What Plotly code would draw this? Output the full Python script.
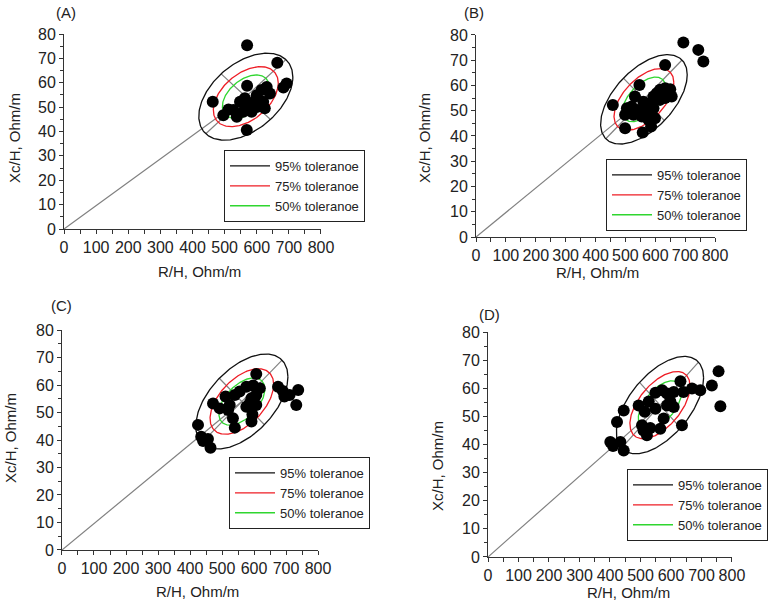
import numpy as np
import plotly.graph_objects as go

PANEL_LABELS = ["(A)", "(B)", "(C)", "(D)"]
X_TITLE = "R/H, Ohm/m"
Y_TITLE = "Xc/H, Ohm/m"

# Scatter points (R/H, Xc/H) per panel
A_R = [570, 664, 463, 570, 631, 693, 683, 569, 496, 538, 600, 615, 641, 620, 600, 584, 558, 527, 548, 563, 574, 625, 512, 590]
A_XC = [75.4, 68.2, 52.2, 58.8, 58.3, 59.7, 58.1, 40.6, 46.7, 46.1, 54.9, 57.0, 55.6, 52.2, 50.1, 48.1, 48.1, 48.8, 52.2, 53.6, 51.5, 49.5, 49.0, 52.0]

B_R = [694, 744, 761, 633, 458, 547, 499, 558, 586, 599, 499, 532, 521, 505, 527, 516, 538, 555, 572, 566, 583, 594, 605, 616, 633, 650, 655, 633, 616, 594, 577, 560]
B_XC = [77.0, 74.1, 69.5, 68.1, 52.3, 60.2, 43.1, 41.4, 43.8, 47.0, 48.4, 55.6, 51.7, 51.0, 48.4, 49.7, 50.3, 47.7, 49.0, 51.7, 53.0, 55.6, 56.9, 58.3, 58.9, 58.5, 55.6, 55.0, 54.3, 51.0, 46.4, 53.6]

C_R = [607, 425, 435, 456, 441, 464, 472, 493, 519, 524, 511, 540, 555, 576, 597, 618, 607, 592, 586, 607, 576, 534, 540, 592, 595, 675, 690, 711, 695, 738, 732]
C_XC = [64.0, 45.5, 41.2, 40.4, 39.6, 37.2, 53.3, 51.5, 50.9, 52.7, 55.8, 56.4, 57.6, 59.4, 59.8, 58.8, 56.4, 55.2, 53.3, 52.7, 52.1, 47.9, 44.5, 46.7, 49.3, 59.4, 57.8, 56.4, 55.8, 58.2, 52.7]

D_R = [756, 734, 762, 696, 669, 641, 631, 636, 423, 445, 401, 410, 434, 445, 494, 514, 527, 549, 571, 587, 609, 598, 587, 609, 576, 505, 532, 521, 565, 510, 549]
D_XC = [66.0, 61.0, 53.6, 59.3, 59.9, 58.7, 62.5, 46.8, 48.0, 52.1, 40.9, 39.5, 40.9, 37.9, 53.9, 51.6, 55.3, 58.4, 59.3, 58.1, 58.7, 55.3, 53.9, 53.3, 49.2, 46.8, 45.9, 43.3, 45.6, 45.0, 52.7]

POINTS_R = [A_R, B_R, C_R, D_R]
POINTS_XC = [A_XC, B_XC, C_XC, D_XC]

# Tolerance ellipse parameters (reference population: means, SDs, correlation)
ELL_MEAN_R = [566, 562, 562, 564]
ELL_MEAN_XC = [54.3, 54.5, 54.0, 54.0]
ELL_SD_R = [59.8, 59.2, 58.8, 58.4]
ELL_SD_XC = [7.29, 7.23, 7.05, 7.07]
ELL_CORR = [0.45, 0.55, 0.52, 0.56]

TOL_LABELS = ["95% toleranoe", "75% toleranoe", "50% toleranoe"]
TOL_K = [2.448, 1.69, 1.22]
TOL_COLORS = ["#111111", "#ee1c25", "#2fd62f"]

X_DOMAINS = [[0.0827, 0.4147], [0.615, 0.9238], [0.0801, 0.4109], [0.6305, 0.9457]]
Y_DOMAINS = [[0.6196, 0.9435], [0.6063, 0.9419], [0.0864, 0.4518], [0.0748, 0.4485]]
LEGEND_POS = [(224, 150), (606, 159), (229, 457), (627, 469)]
LABEL_POS = [(66, 13), (474, 12), (61, 305), (489, 314)]
YTITLE_POS = [(14, 138), (424, 138), (10, 438), (437, 466)]
XTITLE_POS = [(199, 271), (597, 272), (197, 591), (628, 592)]

W, H = 774, 602
FONT = "Liberation Sans, Arial, Helvetica, sans-serif"

fig = go.Figure()
t = np.linspace(0, 2 * np.pi, 241)

for i in range(4):
    suffix = "" if i == 0 else str(i + 1)
    xa, ya = "x" + suffix, "y" + suffix
    leg = "legend" + suffix
    mx, my = ELL_MEAN_R[i], ELL_MEAN_XC[i]
    sx, sy, r = ELL_SD_R[i], ELL_SD_XC[i], ELL_CORR[i]

    # gray reference lines: origin -> mean, major and minor axes of 95% ellipse
    k = TOL_K[0]
    c = k * np.sqrt((1 + r) / 2)
    d = k * np.sqrt((1 - r) / 2)
    gx = [0, mx, None, mx - c * sx, mx + c * sx, None, mx - d * sx, mx + d * sx]
    gy = [0, my, None, my - c * sy, my + c * sy, None, my + d * sy, my - d * sy]
    fig.add_trace(go.Scatter(x=gx, y=gy, mode="lines", xaxis=xa, yaxis=ya,
                             line=dict(color="#808080", width=1.2), showlegend=False,
                             hoverinfo="skip"))

    for lab, kk, col in zip(TOL_LABELS, TOL_K, TOL_COLORS):
        ex = mx + kk * sx * np.cos(t)
        ey = my + kk * sy * (r * np.cos(t) + np.sqrt(1 - r * r) * np.sin(t))
        fig.add_trace(go.Scatter(x=ex, y=ey, mode="lines", xaxis=xa, yaxis=ya,
                                 line=dict(color=col, width=1.3), name=lab,
                                 legend=leg, showlegend=True))

    fig.add_trace(go.Scatter(x=POINTS_R[i], y=POINTS_XC[i], mode="markers",
                             xaxis=xa, yaxis=ya, showlegend=False,
                             marker=dict(color="black", size=12, line=dict(width=0))))

    axis_common = dict(showline=True, linecolor="#333", linewidth=1, showgrid=False,
                       zeroline=False, ticks="outside", ticklen=4, tickcolor="#333",
                       automargin=False,
                       tickfont=dict(size=16, color="#222", family=FONT))
    fig.layout["xaxis" + suffix] = dict(axis_common, domain=X_DOMAINS[i], anchor=ya,
                                        range=[0, 800], dtick=100, tick0=0,
                                        minor=dict(dtick=50, ticks="outside", ticklen=4,
                                                   tickcolor="#333"))
    fig.layout["yaxis" + suffix] = dict(axis_common, domain=Y_DOMAINS[i], anchor=xa,
                                        range=[0, 80], dtick=10, tick0=0,
                                        minor=dict(dtick=5, ticks="outside", ticklen=3,
                                                   tickcolor="#333"))
    lx, ly = LEGEND_POS[i]
    fig.layout[leg] = dict(x=lx / W, y=1 - ly / H, xanchor="left", yanchor="top",
                           bordercolor="#222", borderwidth=1, bgcolor="white",
                           font=dict(size=13, color="#222", family=FONT),
                           itemwidth=40, tracegroupgap=0)

    ann_font = dict(size=15, color="#222", family=FONT)
    px_, py_ = LABEL_POS[i]
    fig.add_annotation(x=px_ / W, y=1 - py_ / H, xref="paper", yref="paper",
                       xanchor="center", yanchor="middle",
                       text=PANEL_LABELS[i], showarrow=False, font=ann_font)
    tx, ty = YTITLE_POS[i]
    fig.add_annotation(x=tx / W, y=1 - ty / H, xref="paper", yref="paper",
                       xanchor="center", yanchor="middle",
                       text=Y_TITLE, textangle=-90, showarrow=False, font=ann_font)
    tx, ty = XTITLE_POS[i]
    fig.add_annotation(x=tx / W, y=1 - ty / H, xref="paper", yref="paper",
                       xanchor="center", yanchor="middle",
                       text=X_TITLE, showarrow=False, font=ann_font)

fig.update_layout(width=W, height=H,
                  margin=dict(l=0, r=0, t=0, b=0, pad=0, autoexpand=False),
                  paper_bgcolor="white", plot_bgcolor="white",
                  font=dict(family=FONT, color="#222"))

fig.write_html("out.html", config={"displayModeBar": False},
               post_script="document.body.style.margin='0px';"
                           "document.body.style.overflow='hidden';")
